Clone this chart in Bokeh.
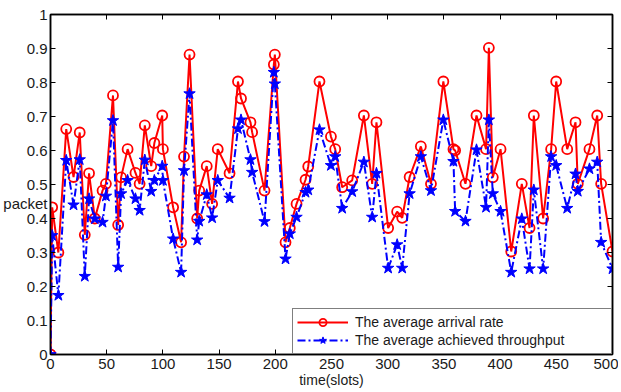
from bokeh.plotting import figure
from bokeh.models import Range1d, FixedTicker, LinearAxis, Legend, LegendItem
from bokeh.embed import file_html
from bokeh.resources import INLINE

# ---- data ----
x_slots = [0, 1.5, 7, 14, 20.5, 26, 30.5, 34.3, 39.4, 46.3, 49.3, 55.6, 60.2, 62.8, 68.6,
           75.6, 79.3, 83.9, 89.6, 92.4, 99.4, 100, 109.1, 116.2, 118.8, 123.7, 130.5, 132.3,
           139, 143.8, 148.8, 159.3, 166.8, 169.5, 177.9, 179.4, 190.4, 198.7, 199.6, 209.1,
           212.9, 218.9, 226.9, 229.3, 239.3, 249.5, 253.3, 259.5, 268.4, 278.8, 286.2, 290,
           300.4, 308.4, 312.9, 319.5, 329.5, 338.5, 349.5, 358.5, 360, 369.2, 379, 387.5, 390,
           393.5, 400.4, 409.9, 419.3, 426.2, 430, 438.3, 445.4, 449.9, 459.7, 467.1, 469.1,
           479.5, 486.4, 489.9, 500]
arrival_rate = [0, 0.433, 0.30, 0.663, 0.522, 0.653, 0.352, 0.533, 0.40, 0.482, 0.502, 0.762,
                0.381, 0.521, 0.604, 0.534, 0.502, 0.674, 0.554, 0.622, 0.703, 0.604, 0.433,
                0.33, 0.582, 0.882, 0.40, 0.482, 0.554, 0.443, 0.604, 0.533, 0.803, 0.753,
                0.683, 0.654, 0.482, 0.853, 0.882, 0.33, 0.372, 0.443, 0.514, 0.553, 0.803,
                0.641, 0.604, 0.492, 0.512, 0.703, 0.502, 0.683, 0.372, 0.42, 0.402, 0.522,
                0.612, 0.502, 0.803, 0.604, 0.60, 0.502, 0.703, 0.604, 0.902, 0.521, 0.604,
                0.303, 0.502, 0.372, 0.703, 0.40, 0.604, 0.803, 0.604, 0.683, 0.502, 0.604,
                0.703, 0.502, 0.303]
achieved_throughput = [0, 0.35, 0.174, 0.571, 0.44, 0.573, 0.23, 0.458, 0.399, 0.389, 0.466,
                       0.688, 0.257, 0.473, 0.512, 0.458, 0.424, 0.572, 0.48, 0.512, 0.554,
                       0.512, 0.34, 0.242, 0.541, 0.767, 0.337, 0.392, 0.47, 0.402, 0.512,
                       0.46, 0.664, 0.69, 0.573, 0.536, 0.391, 0.83, 0.796, 0.281, 0.355,
                       0.404, 0.477, 0.484, 0.661, 0.556, 0.582, 0.43, 0.479, 0.566, 0.404,
                       0.533, 0.254, 0.323, 0.254, 0.473, 0.582, 0.482, 0.69, 0.568, 0.421,
                       0.392, 0.602, 0.433, 0.69, 0.473, 0.421, 0.242, 0.399, 0.252, 0.484,
                       0.252, 0.582, 0.556, 0.43, 0.531, 0.48, 0.546, 0.566, 0.33, 0.252]

x_ticks = [0, 50, 100, 150, 200, 250, 300, 350, 400, 450, 500]
y_ticks = [0, 0.1, 0.2, 0.3, 0.4, 0.5, 0.6, 0.7, 0.8, 0.9, 1]
y_tick_labels = ["0", "0.1", "0.2", "0.3", "0.4", "0.5", "0.6", "0.7", "0.8", "0.9", "1"]
series_names = ["The average arrival rate", "The average achieved throughput"]
y_label = "packet"
y_label_pos = 0.445

FONT = "Liberation Sans"

p = figure(width=618, height=391, output_backend="svg", toolbar_location=None,
           x_range=Range1d(0, 500), y_range=Range1d(0, 1),
           min_border_left=50, min_border_right=6, min_border_top=14, min_border_bottom=37)
p.background_fill_color = "white"
p.border_fill_color = "white"
p.outline_line_color = "black"
p.outline_line_width = 1.5
p.xgrid.visible = False
p.ygrid.visible = False

def style_axis(ax, ticks, overrides):
    ax.ticker = FixedTicker(ticks=ticks)
    ax.major_label_overrides = overrides
    ax.major_tick_in = 5
    ax.major_tick_out = 0
    ax.minor_tick_line_color = None
    ax.axis_line_color = "black"
    ax.axis_line_width = 1.5
    ax.major_tick_line_color = "black"
    ax.major_tick_line_width = 1
    ax.major_label_text_font = FONT
    ax.major_label_text_font_size = "15px"
    ax.major_label_text_color = "#1a1a1a"

x_over = {t: str(t) for t in x_ticks}
style_axis(p.xaxis[0], x_ticks, x_over)
p.xaxis[0].major_label_standoff = 4
p.xaxis.axis_label = "time(slots)"
p.xaxis.axis_label_text_font = FONT
p.xaxis.axis_label_text_font_size = "14px"
p.xaxis.axis_label_text_font_style = "normal"
p.xaxis.axis_label_text_color = "#1a1a1a"
p.xaxis.axis_label_standoff = 0

# left axis next to the frame: only the inward tick marks
style_axis(p.yaxis[0], y_ticks, {t: "" for t in y_ticks})
p.yaxis[0].major_label_standoff = 0

# second left axis: tick labels plus the horizontal "packet" label, no marks
lab_ticks = y_ticks + [y_label_pos]
lab_over = {t: l for t, l in zip(y_ticks, y_tick_labels)}
lab_over[y_label_pos] = y_label
label_ax = LinearAxis()
style_axis(label_ax, lab_ticks, lab_over)
label_ax.major_tick_in = 0
label_ax.major_tick_line_color = None
label_ax.axis_line_color = None
label_ax.major_label_standoff = 3
p.add_layout(label_ax, "left")

top_ax = LinearAxis()
style_axis(top_ax, x_ticks, {t: "" for t in x_ticks})
top_ax.major_label_standoff = 0
p.add_layout(top_ax, "above")
right_ax = LinearAxis()
style_axis(right_ax, y_ticks, {t: "" for t in y_ticks})
right_ax.major_label_standoff = 0
p.add_layout(right_ax, "right")

# arrival rate (red, solid, hollow circles)
r_line = p.line(x_slots, arrival_rate, line_color="#ff0000", line_width=2)
r_mark = p.scatter(x_slots, arrival_rate, marker="circle", size=10, fill_color=None,
                   line_color="#ff0000", line_width=1.8)
# throughput (blue, dash-dot, filled stars)
b_line = p.line(x_slots, achieved_throughput, line_color="#0000ff", line_width=2,
                line_dash="8 3 2 3")
b_mark = p.scatter(x_slots, achieved_throughput, marker="star", size=12, fill_color="#0000ff",
                   line_color="#0000ff", line_width=1)

legend = Legend(items=[LegendItem(label=series_names[0], renderers=[r_line, r_mark]),
                       LegendItem(label=series_names[1], renderers=[b_line, b_mark])],
                location="bottom_right", margin=0, padding=4, spacing=0,
                glyph_width=51, glyph_height=18, label_height=18, label_width=252,
                label_standoff=7, border_line_color="black", border_line_width=1.5,
                background_fill_color="white", background_fill_alpha=1,
                label_text_font=FONT, label_text_font_size="14px",
                label_text_color="#1a1a1a")
p.add_layout(legend)

open("out.html", "w").write(file_html(p, INLINE))
